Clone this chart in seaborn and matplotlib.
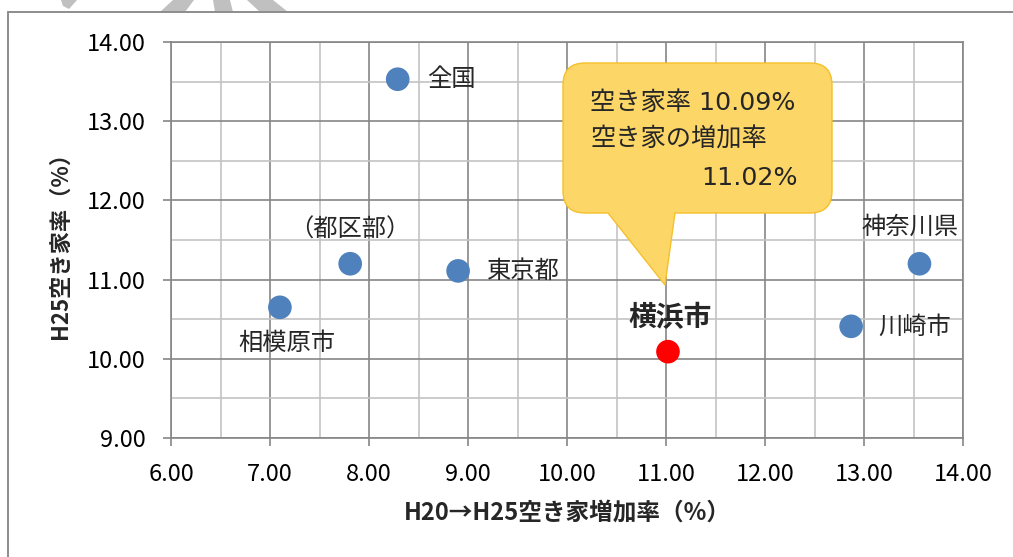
import matplotlib
matplotlib.use("Agg")

import pandas as pd
import matplotlib.pyplot as plt
import seaborn as sns
from matplotlib.path import Path
from matplotlib.patches import PathPatch, Polygon
from matplotlib.lines import Line2D
from matplotlib.transforms import Affine2D
from matplotlib.ticker import MultipleLocator, FormatStrFormatter

# Data
names = ["全国", "（都区部）", "東京都", "相模原市", "横浜市", "川崎市", "神奈川県"]
increase_rate = [8.29, 7.81, 8.90, 7.10, 11.02, 12.87, 13.56]
vacancy_rate = [13.53, 11.20, 11.11, 10.65, 10.09, 10.41, 11.20]
group = ["other", "other", "other", "other", "yokohama", "other", "other"]

callout_lines = ["空き家率 10.09%", "空き家の増加率", "11.02%"]
x_title = "H20→H25空き家増加率（%）"
y_title = "H25空き家率（%）"

df = pd.DataFrame({"name": names, "x": increase_rate, "y": vacancy_rate, "group": group})

# Label placement (pixel offsets from the marker, ha)
label_pos = {
    "全国": (29, 0, "left"),
    "（都区部）": (0, 34, "center"),
    "東京都": (29, 0, "left"),
    "相模原市": (7, -36, "center"),
    "横浜市": (2, 34, "center"),
    "川崎市": (27, 0, "left"),
    "神奈川県": (-9, 37, "center"),
}

sns.set_style("white")
plt.rcParams["font.family"] = ["Noto Sans CJK JP", "DejaVu Sans"]
mixed = ["DejaVu Sans", "Noto Sans CJK JP"]

W, H = 1013, 557
fig = plt.figure(figsize=(W / 100, H / 100), dpi=100)
px = Affine2D().scale(1 / W, -1 / H).translate(0, 1) + fig.transFigure
ax = fig.add_axes([171 / W, 1 - 438 / H, 792 / W, 396 / H])

major_c = "#868686"
minor_c = "#c3c3c3"

sns.scatterplot(
    data=df, x="x", y="y", hue="group",
    palette={"other": "#4f81bd", "yokohama": "#ff0000"},
    s=290, linewidth=0, legend=False, ax=ax, zorder=5, clip_on=False,
)

ax.set_xlim(6, 14)
ax.set_ylim(9, 14)
ax.xaxis.set_major_locator(MultipleLocator(1))
ax.xaxis.set_minor_locator(MultipleLocator(0.5))
ax.yaxis.set_major_locator(MultipleLocator(1))
ax.yaxis.set_minor_locator(MultipleLocator(0.5))
ax.xaxis.set_major_formatter(FormatStrFormatter("%.2f"))
ax.yaxis.set_major_formatter(FormatStrFormatter("%.2f"))
ax.set_axisbelow(True)
ax.grid(which="minor", color=minor_c, lw=1.2)
ax.grid(which="major", color=major_c, lw=1.2)
for sp in ax.spines.values():
    sp.set_color(major_c)
    sp.set_linewidth(1.2)
ax.tick_params(which="major", length=6, width=1.2, color=major_c, labelsize=17, labelcolor="black")
ax.tick_params(axis="x", which="major", pad=12, bottom=True)
ax.tick_params(axis="y", which="major", pad=12, left=True)
ax.tick_params(which="minor", length=0)

ax.set_xlabel(x_title, fontsize=17, fontweight="bold", va="center")
ax.set_ylabel(y_title, fontsize=16, fontweight="bold", va="center")
ax.xaxis.set_label_coords(0.5, (438 - 513) / 396)
ax.yaxis.set_label_coords((60 - 171) / 792, 0.5)

# Point labels
for _, row in df.iterrows():
    dx, dy, ha = label_pos[row["name"]]
    bold = row["group"] == "yokohama"
    ax.annotate(
        row["name"], (row["x"], row["y"]), xytext=(dx, dy), textcoords="offset pixels",
        ha=ha, va="center", fontsize=20 if bold else 17.5,
        fontweight="bold" if bold else "normal", zorder=6,
    )

# Callout bubble (drawn in figure pixels)
x0, x1, y0, y1, r = 563, 832, 63, 213, 22
tip = (665, 285)
verts = [
    (x0 + r, y0), (x1 - r, y0), (x1, y0), (x1, y0 + r),
    (x1, y1 - r), (x1, y1), (x1 - r, y1),
    (675, y1), tip, (608, y1),
    (x0 + r, y1), (x0, y1), (x0, y1 - r),
    (x0, y0 + r), (x0, y0), (x0 + r, y0), (x0 + r, y0),
]
codes = [
    Path.MOVETO, Path.LINETO, Path.CURVE3, Path.CURVE3,
    Path.LINETO, Path.CURVE3, Path.CURVE3,
    Path.LINETO, Path.LINETO, Path.LINETO,
    Path.LINETO, Path.CURVE3, Path.CURVE3,
    Path.LINETO, Path.CURVE3, Path.CURVE3, Path.CLOSEPOLY,
]
fig.add_artist(PathPatch(Path(verts, codes), transform=px, facecolor="#fdd668",
                         edgecolor="#f5c02a", lw=1.0, zorder=4))
fig.text(590, 103, callout_lines[0], transform=px, fontsize=18.2, family=mixed,
         va="center", ha="left", zorder=7)
fig.text(590, 140, callout_lines[1], transform=px, fontsize=18.2, family=mixed,
         va="center", ha="left", zorder=7)
fig.text(798, 178, callout_lines[2], transform=px, fontsize=18.2, family=mixed,
         va="center", ha="right", zorder=7)

# Outer chart frame and the grey shapes peeking in at the top
fig.add_artist(Line2D([8, W], [12, 12], transform=px, color="#8c8c8c", lw=1.4))
fig.add_artist(Line2D([8, 8], [12, H], transform=px, color="#8c8c8c", lw=1.4))
for poly in [
    [(61, 0), (77, 0), (69, 9), (63, 6)],
    [(173, 0), (194, 0), (185, 12), (160, 12)],
    [(213, 0), (230, 0), (233, 12), (215, 12)],
    [(247, 0), (273, 0), (288, 12), (260, 12)],
]:
    fig.add_artist(Polygon(poly, closed=True, transform=px, facecolor="#c0c0c0", edgecolor="none"))

fig.savefig("out.png", dpi=100)
